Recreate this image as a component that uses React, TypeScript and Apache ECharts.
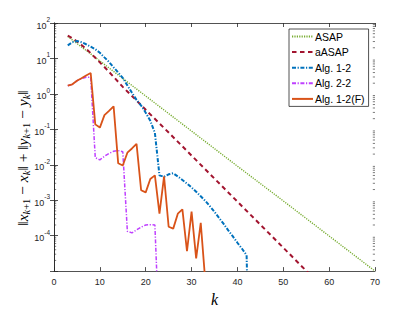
import React, { useEffect, useRef } from "react";
import * as echarts from "echarts";

const seriesNames = ["ASAP", "aASAP", "Alg. 1-2", "Alg. 2-2", "Alg. 1-2(F)"];

const asapK = [3, 10, 20, 30, 40, 50, 60, 70];
const asapVal = [41.7, 8.51, 0.871, 0.0891, 9.12e-3, 9.55e-4, 9.77e-5, 1.0e-5];

const aasapK = [3, 4, 5, 6, 7, 8, 9, 10, 11, 12, 13, 14, 15, 16, 17, 18, 19, 20, 25, 30, 35, 40, 45, 50, 55, 56];
const aasapVal = [
  43.7, 37.2, 30.2, 24.0, 18.6, 14.1, 10.5, 7.76, 5.75, 4.17, 3.02, 2.19, 1.58, 1.17, 0.871, 0.646, 0.479, 0.355,
  0.0813, 0.0182, 4.07e-3, 9.12e-4, 2.04e-4, 4.57e-5, 1.02e-5, 7.6e-6,
];

const alg12K = [
  3, 4, 5, 6, 7, 8, 9, 10, 11, 12, 13, 14, 15, 16, 17, 18, 19, 20, 21, 22, 23, 24, 25, 26, 27, 28, 29, 30, 31, 32,
  33, 34, 35, 36, 37, 38, 39, 40, 41, 42, 43,
];
const alg12Val = [
  23.4, 28.8, 30.9, 28.8, 25.1, 21.4, 18.2, 14.5, 10.7, 7.94, 5.62, 3.98, 2.82, 1.74, 1.07, 0.676, 0.468, 0.295,
  0.174, 0.0794, 5.01e-3, 4.57e-3, 5.37e-3, 5.75e-3, 4.68e-3, 3.72e-3, 2.95e-3, 2.29e-3, 1.74e-3, 1.29e-3, 9.55e-4,
  6.76e-4, 4.68e-4, 3.16e-4, 2.14e-4, 1.41e-4, 9.55e-5, 6.31e-5, 4.27e-5, 2.82e-5, 1e-10,
];

const alg22K = [3, 4, 5, 6, 7, 8, 9, 10, 11, 12, 13, 14, 15, 16, 17, 18, 19, 20, 21, 22, 23];
const alg22Val = [
  1.7, 1.86, 2.34, 2.69, 2.95, 2.95, 0.0158, 0.0138, 0.0174, 0.0209, 0.024, 0.0251, 0.0234, 1.32e-4, 1.2e-4,
  1.45e-4, 1.74e-4, 2.0e-4, 2.04e-4, 2.0e-4, 1e-7,
];

const alg12FK = [
  3, 4, 5, 6, 7, 8, 9, 10, 11, 12, 13, 14, 15, 16, 17, 18, 19, 20, 21, 22, 23, 24, 25, 26, 27, 28, 29, 30, 31, 32, 33,
];
const alg12FVal = [
  1.7, 1.86, 2.34, 2.75, 3.31, 3.89, 0.138, 0.112, 0.251, 0.331, 0.447, 0.011, 9.55e-3, 0.0219, 0.0288, 0.0389,
  1.91e-3, 1.66e-3, 3.98e-3, 5.01e-3, 4.17e-4, 4.68e-3, 1.78e-4, 1.58e-4, 4.17e-4, 5.5e-4, 3.63e-5, 4.79e-4,
  2.29e-5, 2.29e-4, 5.0e-6,
];

const xMin = 0;
const xMax = 70;
const xInterval = 10;
const yMin = 1e-5;
const yMax = 100;
const minorDecades = [-5, -4, -3, -2, -1, 0, 1];
const minorMults = [2, 3, 4, 5, 6, 7, 8, 9];

const AX = "#262626";
const TICKFONT = "'Liberation Sans', Arial, sans-serif";
const MATHFONT = "'Liberation Serif', 'DejaVu Serif', serif";

function zip(ks: number[], vs: number[]) {
  return ks.map((k, i) => [k, vs[i]]);
}

export default function App() {
  const ref = useRef<HTMLDivElement>(null);
  useEffect(() => {
    if (!ref.current) return;
    const chart = echarts.init(ref.current, null, { renderer: "svg" });
    const minorData: number[][] = [];
    minorDecades.forEach((e) => minorMults.forEach((m) => minorData.push([0, m * Math.pow(10, e)])));

    const lineBase = { type: "line", showSymbol: false, symbol: "none", xAxisIndex: 0, yAxisIndex: 0, clip: true };

    const option: any = {
      animation: false,
      backgroundColor: "#ffffff",
      grid: { left: 54, right: 40, top: 23, bottom: 35, containLabel: false },
      legend: {
        show: true,
        data: seriesNames,
        orient: "vertical",
        left: 289,
        top: 29,
        itemWidth: 21,
        itemHeight: 10,
        itemGap: 4.6,
        padding: [2, 4, 2, 2],
        borderColor: AX,
        borderWidth: 0.8,
        borderRadius: 0,
        backgroundColor: "#ffffff",
        itemStyle: { opacity: 0 },
        textStyle: { fontFamily: TICKFONT, fontSize: 10.5, color: "#000000", padding: [0, 0, 0, -3] },
      },
      xAxis: [
        {
          type: "value",
          position: "bottom",
          min: xMin,
          max: xMax,
          interval: xInterval,
          name: "k",
          nameLocation: "middle",
          nameGap: 15,
          nameTextStyle: { fontFamily: MATHFONT, fontStyle: "italic", fontSize: 16, color: "#000" },
          axisLine: { show: true, lineStyle: { color: AX, width: 0.8 } },
          axisTick: { show: true, inside: true, length: 4, lineStyle: { color: AX, width: 0.8 } },
          axisLabel: { color: AX, fontFamily: TICKFONT, fontSize: 9, margin: 6 },
          splitLine: { show: false },
        },
        {
          type: "value",
          position: "top",
          min: xMin,
          max: xMax,
          interval: xInterval,
          axisLine: { show: true, lineStyle: { color: AX, width: 0.8 } },
          axisTick: { show: true, inside: true, length: 4, lineStyle: { color: AX, width: 0.8 } },
          axisLabel: { show: false },
          splitLine: { show: false },
        },
      ],
      yAxis: [
        {
          type: "log",
          logBase: 10,
          position: "left",
          min: yMin,
          max: yMax,
          splitNumber: 7,
          axisLine: { show: true, lineStyle: { color: AX, width: 0.8 } },
          axisTick: { show: true, inside: true, length: 4, lineStyle: { color: AX, width: 0.8 } },
          axisLabel: {
            color: AX,
            margin: 4,
            formatter: (v: number) => {
              const e = Math.round(Math.log10(v));
              if (e < -4) return "";
              return `{b|10}{s|${e}}`;
            },
            rich: {
              b: { fontFamily: TICKFONT, fontSize: 9, color: AX, lineHeight: 14, verticalAlign: "bottom" },
              s: { fontFamily: TICKFONT, fontSize: 6.5, color: AX, lineHeight: 8, verticalAlign: "top" },
            },
          },
          splitLine: { show: false },
        },
        {
          type: "log",
          logBase: 10,
          position: "right",
          min: yMin,
          max: yMax,
          splitNumber: 7,
          axisLine: { show: true, lineStyle: { color: AX, width: 0.8 } },
          axisTick: { show: true, inside: true, length: 4, lineStyle: { color: AX, width: 0.8 } },
          axisLabel: { show: false },
          splitLine: { show: false },
        },
      ],
      graphic: [
        {
          type: "text",
          x: 22,
          y: 158,
          rotation: Math.PI / 2,
          style: {
            text: "‖{i|x}{s|k}{n|+1} − {i|x}{s|k}‖ + ‖{i|y}{s|k}{n|+1} − {i|y}{s|k}‖",
            align: "center",
            verticalAlign: "middle",
            fontFamily: MATHFONT,
            fontSize: 15.5,
            fill: "#000",
            rich: {
              i: { fontFamily: MATHFONT, fontStyle: "italic", fontSize: 15.5, lineHeight: 19, verticalAlign: "middle", fill: "#000" },
              s: { fontFamily: MATHFONT, fontStyle: "italic", fontSize: 10.5, lineHeight: 10, verticalAlign: "bottom", fill: "#000" },
              n: { fontFamily: MATHFONT, fontSize: 10.5, lineHeight: 10, verticalAlign: "bottom", fill: "#000" },
            },
          },
        },
      ],
      series: [
        {
          ...lineBase,
          name: seriesNames[0],
          data: zip(asapK, asapVal),
          color: "#77AC30",
          lineStyle: { color: "#77AC30", width: 1.4, type: [1.2, 1.2] },
          z: 2,
        },
        {
          ...lineBase,
          name: seriesNames[1],
          data: zip(aasapK, aasapVal),
          color: "#A2142F",
          lineStyle: { color: "#A2142F", width: 2, type: [4.5, 3.5] },
          z: 3,
        },
        {
          ...lineBase,
          name: seriesNames[2],
          data: zip(alg12K, alg12Val),
          color: "#0072BD",
          lineStyle: { color: "#0072BD", width: 2, type: [4, 1.6, 1.2, 1.6] },
          z: 4,
        },
        {
          ...lineBase,
          name: seriesNames[3],
          data: zip(alg22K, alg22Val),
          color: "#BF40FF",
          lineStyle: { color: "#BF40FF", width: 1.5, type: [4, 1.6, 1.2, 1.6] },
          z: 5,
        },
        {
          ...lineBase,
          name: seriesNames[4],
          data: zip(alg12FK, alg12FVal),
          color: "#D95319",
          lineStyle: { color: "#D95319", width: 1.8, type: "solid" },
          z: 6,
        },
        {
          type: "custom",
          name: "minorTicks",
          xAxisIndex: 0,
          yAxisIndex: 0,
          silent: true,
          encode: { x: 0, y: 1 },
          data: minorData,
          renderItem: (params: any, api: any) => {
            const v = api.value(1);
            const l = api.coord([xMin, v]);
            const r = api.coord([xMax, v]);
            return {
              type: "group",
              children: [
                { type: "line", shape: { x1: l[0], y1: l[1], x2: l[0] + 2.2, y2: l[1] }, style: { stroke: AX, lineWidth: 0.6 } },
                { type: "line", shape: { x1: r[0] - 2.2, y1: r[1], x2: r[0], y2: r[1] }, style: { stroke: AX, lineWidth: 0.6 } },
              ],
            };
          },
          z: 1,
        },
      ],
    };
    chart.setOption(option);
    return () => chart.dispose();
  }, []);
  return (
    <div
      ref={ref}
      style={{ position: "fixed", left: 0, top: 0, width: 415, height: 312, background: "#fff" }}
    />
  );
}
